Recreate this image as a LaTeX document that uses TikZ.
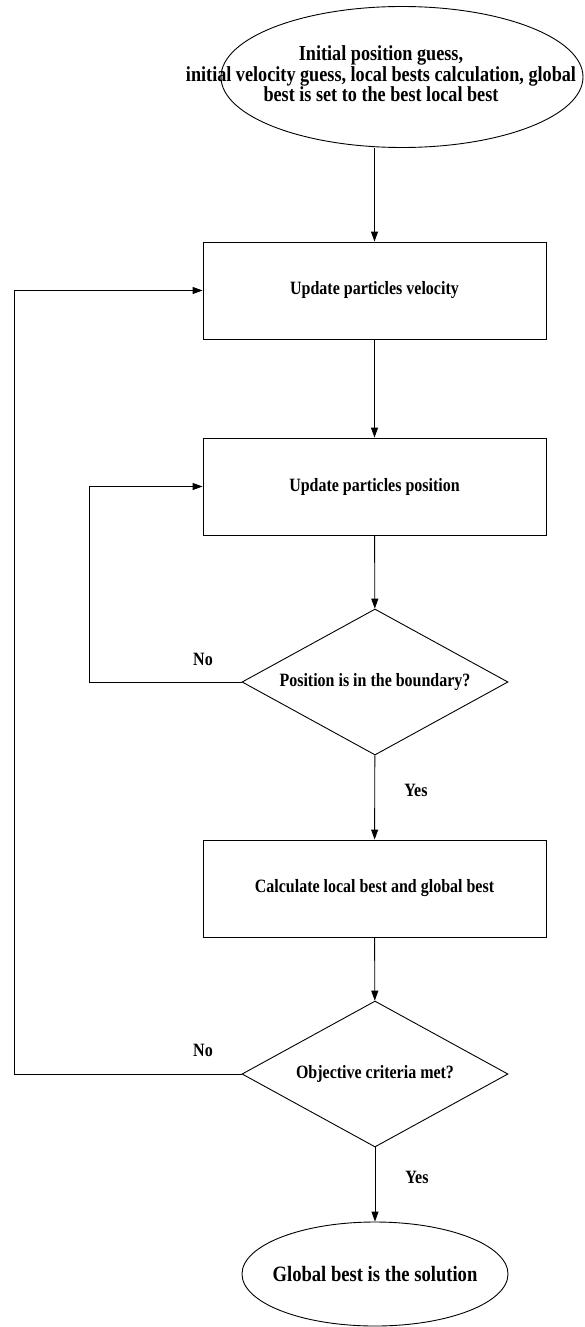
\documentclass[tikz,border=0pt]{standalone}
\usepackage{fontspec}
\setmainfont{Liberation Serif}[FakeStretch=0.85]
\usetikzlibrary{shapes.geometric,arrows.meta}
\begin{document}
\begin{tikzpicture}[x=1pt,y=-1pt,line width=0.9pt,
		>={Triangle[length=10pt,width=7pt]},
		box/.style={draw,rectangle,minimum width=343pt,minimum height=97pt,inner sep=0pt,font=\fontsize{18.8}{22}\selectfont\bfseries},
		decide/.style={draw,diamond,shape aspect=1.82,minimum width=266pt,minimum height=146pt,inner sep=0pt,font=\fontsize{18.8}{22}\selectfont\bfseries},
		term/.style={draw,ellipse,inner sep=0pt},
		lbl/.style={font=\fontsize{18.8}{22}\selectfont\bfseries,inner sep=0pt}]
				\useasboundingbox (0,0) rectangle (584,1327);
				% start and end
				\node[term,minimum width=362pt,minimum height=141pt] (init) at (402,77) {};
				\node[align=center,inner sep=0pt,font=\fontsize{21.4}{18}\selectfont\bfseries] (inittxt) at (381,74)
					{Initial position guess,\\initial velocity guess, local bests calculation, global\\best is set to the best local best};
				\node[term,minimum width=266pt,minimum height=104pt] (sol) at (375,1274) {};
				\node[inner sep=0pt,font=\fontsize{21.9}{24}\selectfont\bfseries] (soltxt) at (375,1274) {Global best is the solution};
				% steps
				\node[box] (vel) at (374.5,290.5) {Update particles velocity};
				\node[box] (pos) at (374.5,486.5) {Update particles position};
				\node[decide] (bnd) at (375,682) {Position is in the boundary?};
				\node[box] (best) at (374.5,888.5) {Calculate local best and global best};
				\node[decide] (obj) at (375,1074) {Objective criteria met?};
				% loop corners
				\coordinate (loopa) at (89,0);
				\coordinate (loopb) at (14,0);
				\node[lbl] (no1) at (203,659) {No};
				\node[lbl] (yes1) at (416,790) {Yes};
				\node[lbl] (no2) at (203,1050) {No};
				\node[lbl] (yes2) at (417,1177) {Yes};
				\draw[->] (init.south -| vel.north) -- (vel.north);
				\draw[->] (vel) -- (pos);
				\draw[->] (pos) -- (bnd);
				\draw[->] (bnd) -- (best);
				\draw[->] (best) -- (obj);
				\draw[->] (obj) -- (sol);
				\draw[->] (bnd.west) -- (bnd.west -| loopa) |- (pos.west);
				\draw[->] (obj.west) -- (obj.west -| loopb) |- (vel.west);
		\end{tikzpicture}
\end{document}
